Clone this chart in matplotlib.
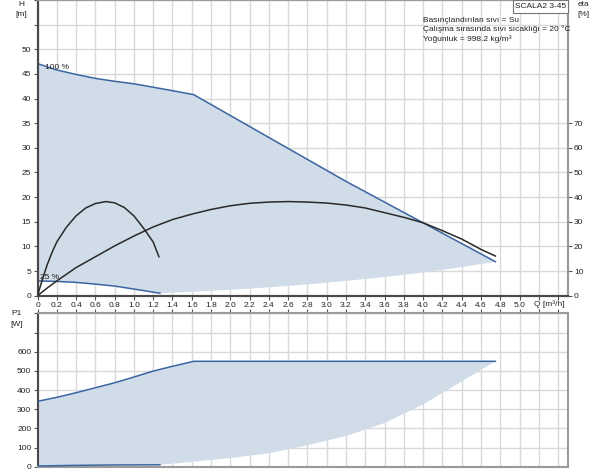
import matplotlib
matplotlib.use("Agg")
import matplotlib.pyplot as plt
from matplotlib.patches import Rectangle

plt.rcParams['font.family'] = ['Liberation Sans', 'DejaVu Sans']

# ---- data ----
q_h100 = [0, 0.2, 0.4, 0.6, 0.8, 1.0, 1.2, 1.4, 1.62, 3.2, 4.75]
h_100 = [47.1, 45.8, 44.9, 44.1, 43.5, 43.0, 42.3, 41.6, 40.8, 23.2, 6.9]

q_h25 = [0, 0.2, 0.4, 0.6, 0.8, 1.0, 1.27]
h_25 = [3.0, 2.9, 2.7, 2.35, 1.95, 1.35, 0.5]

q_hmin = [1.27, 1.6, 2.0, 2.4, 2.8, 3.2, 3.6, 4.0, 4.4, 4.75]
h_min = [0.5, 0.8, 1.2, 1.7, 2.3, 3.0, 3.8, 4.7, 5.8, 6.9]

q_eta100 = [0, 0.1, 0.2, 0.4, 0.6, 0.8, 1.0, 1.2, 1.4, 1.6, 1.8, 2.0, 2.2, 2.4, 2.6,
            2.8, 3.0, 3.2, 3.4, 3.6, 3.8, 4.0, 4.2, 4.4, 4.6, 4.75]
eta_100 = [0, 3.1, 6.0, 11.4, 15.8, 20.2, 24.2, 27.9, 30.9, 33.1, 35.0, 36.5, 37.5, 38.0, 38.2,
           38.0, 37.6, 36.8, 35.6, 33.7, 31.8, 29.6, 26.4, 23.0, 18.8, 16.1]

q_eta25 = [0, 0.05, 0.1, 0.15, 0.2, 0.3, 0.4, 0.5, 0.6, 0.71, 0.8, 0.9, 1.0, 1.1, 1.2, 1.26]
eta_25 = [0, 6.5, 12.5, 17.5, 21.8, 27.8, 32.4, 35.6, 37.4, 38.2, 37.7, 35.8, 32.4, 27.4, 21.8, 15.8]

q_p100 = [0, 0.2, 0.4, 0.6, 0.8, 1.0, 1.2, 1.4, 1.62, 4.75]
p_100 = [341, 362, 386, 412, 438, 468, 499, 524, 550, 550]

q_p25 = [0, 0.4, 0.8, 1.27]
p_25 = [4, 7, 9, 10]

q_pmin = [1.27, 1.6, 2.0, 2.4, 2.8, 3.2, 3.6, 4.0, 4.4, 4.75]
p_min = [10, 25, 45, 70, 112, 160, 228, 325, 445, 550]

x_ticks = [round(0.2 * i, 1) for i in range(28)]
x_labels = ['0'] + ['%.1f' % v for v in x_ticks[1:26]] + ['', '']
h_ticks = list(range(0, 65, 5))
h_labels = [str(v) for v in range(0, 55, 5)] + ['', '']
eta_ticks = list(range(0, 80, 10))
p_ticks = list(range(0, 900, 100))
p_labels = [str(v) for v in range(0, 700, 100)] + ['', '']

title_box = "SCALA2 3-45"
info_lines = ["Basınçlandırılan sıvı = Su",
              "Çalışma sırasında sıvı sıcaklığı = 20 °C",
              "Yoğunluk = 998.2 kg/m³"]

# ---- style ----
FILL = '#d0dce8'
LINE = '#3b65a0'
ETA = '#2a2a2a'
GRID = '#d9d9d9'
SPINE = '#9a9a9a'
DARK = '#4a4a4a'
FS = 6
TXT = '#222222'

fig = plt.figure(figsize=(6, 4.73), dpi=100)
W, Hh = 600, 473
x0, x1 = 37.5, 567.7
ax1 = fig.add_axes([x0 / W, 1 - 295.7 / Hh, (x1 - x0) / W, 295.7 / Hh])
ax2 = fig.add_axes([x0 / W, 1 - 466.7 / Hh, (x1 - x0) / W, 153.3 / Hh])

for ax in (ax1, ax2):
    ax.set_xlim(0, 5.5)
    ax.set_xticks(x_ticks)
    ax.grid(True, color=GRID, lw=1.0)
    ax.set_axisbelow(True)
    for s in ax.spines.values():
        s.set_color(SPINE)
        s.set_linewidth(1.5)
    ax.spines['left'].set_color(DARK)
    ax.tick_params(length=3, width=0.8, color='#555555', labelsize=FS,
                   pad=1.5, labelcolor=TXT)
ax1.spines['bottom'].set_color(DARK)

# ---- top: H / eta ----
ax1.set_ylim(0, 60)
ax1.set_yticks(h_ticks)
ax1.set_yticklabels(h_labels)
ax1.set_xticklabels(x_labels)

poly_q = list(q_h100) + list(q_hmin[::-1]) + list(q_h25[::-1])
poly_h = list(h_100) + list(h_min[::-1]) + list(h_25[::-1])
ax1.fill(poly_q, poly_h, color=FILL, lw=0, zorder=1)
ax1.plot(q_h100, h_100, color=LINE, lw=1.1, zorder=3)
ax1.plot(q_h25, h_25, color=LINE, lw=1.1, zorder=3)

ax1e = ax1.twinx()
ax1e.set_ylim(0, 120)
ax1e.set_yticks(eta_ticks)
ax1e.tick_params(length=3, width=0.8, color='#555555', labelsize=FS,
                 pad=1.5, labelcolor=TXT)
for s in ax1e.spines.values():
    s.set_color(SPINE)
    s.set_linewidth(1.5)
ax1e.spines['left'].set_color(DARK)
ax1e.spines['bottom'].set_color(DARK)
ax1e.plot(q_eta100, eta_100, color=ETA, lw=1.1, zorder=4)
ax1e.plot(q_eta25, eta_25, color=ETA, lw=1.1, zorder=4)

ax1.text(0.08, 46.3, "100 %", fontsize=FS, color=TXT, va='center', ha='left', zorder=5)
ax1.text(0.03, 3.6, "25 %", fontsize=FS, color=TXT, va='center', ha='left', zorder=5)
ax1.text(5.31, -1.7, "Q [m³/h]", fontsize=FS, color=TXT, va='center', ha='center',
         clip_on=False)

# ---- bottom: P1 ----
ax2.set_ylim(0, 800)
ax2.set_yticks(p_ticks)
ax2.set_yticklabels(p_labels)
ax2.tick_params(axis='x', top=True, bottom=False, labeltop=False, labelbottom=False)

pq = list(q_p100) + list(q_pmin[::-1]) + list(q_p25[::-1])
pp = list(p_100) + list(p_min[::-1]) + list(p_25[::-1])
ax2.fill(pq, pp, color=FILL, lw=0, zorder=1)
ax2.plot(q_p100, p_100, color=LINE, lw=1.1, zorder=3)
ax2.plot(q_p25, p_25, color=LINE, lw=1.1, zorder=3)

# ---- axis titles ----
fig.text(21 / W, 1 - 5 / Hh, "H", fontsize=FS, ha='center', va='center', color=TXT)
fig.text(21 / W, 1 - 15 / Hh, "[m]", fontsize=FS, ha='center', va='center', color=TXT)
fig.text(583 / W, 1 - 5 / Hh, "eta", fontsize=FS, ha='center', va='center', color=TXT)
fig.text(583 / W, 1 - 15 / Hh, "[%]", fontsize=FS, ha='center', va='center', color=TXT)
fig.text(17 / W, 1 - 313 / Hh, "P1", fontsize=FS, ha='center', va='center', color=TXT)
fig.text(17 / W, 1 - 324 / Hh, "[W]", fontsize=FS, ha='center', va='center', color=TXT)

# ---- info text ----
for i, line in enumerate(info_lines):
    fig.text(422.7 / W, 1 - (20 + 9.6 * i) / Hh, line, fontsize=FS, ha='left',
             va='center', color=TXT)

fig.patches.append(Rectangle((513.3 / W, 1 - 13.5 / Hh), 54.2 / W, 13.5 / Hh,
                             transform=fig.transFigure, facecolor='white',
                             edgecolor='#777777', lw=0.8, zorder=10))
fig.text(540.4 / W, 1 - 6.8 / Hh, title_box, fontsize=FS, ha='center', va='center',
         color=TXT, zorder=11)

fig.savefig("out.png", dpi=100)
